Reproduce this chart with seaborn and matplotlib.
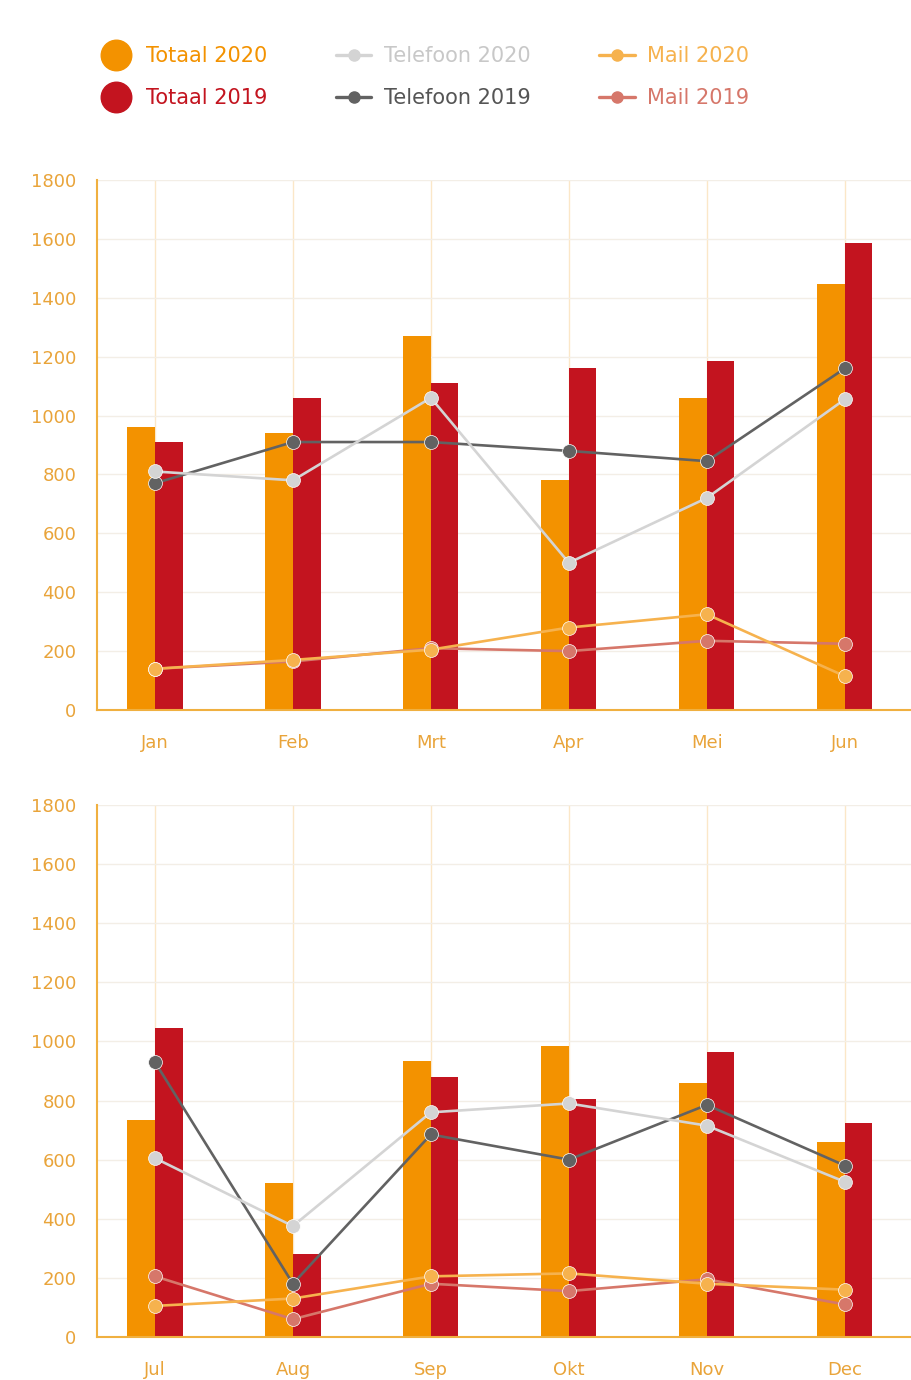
import numpy as np
import pandas as pd
import matplotlib
matplotlib.use("Agg")
import matplotlib.pyplot as plt
from matplotlib.lines import Line2D
import seaborn as sns

# data
maanden_1 = ["Jan", "Feb", "Mrt", "Apr", "Mei", "Jun"]
maanden_2 = ["Jul", "Aug", "Sep", "Okt", "Nov", "Dec"]

totaal_2020_1 = [960, 940, 1270, 780, 1060, 1445]
totaal_2019_1 = [910, 1060, 1110, 1160, 1185, 1585]
telefoon_2020_1 = [810, 780, 1060, 500, 720, 1055]
telefoon_2019_1 = [770, 910, 910, 880, 845, 1160]
mail_2020_1 = [140, 170, 205, 280, 325, 115]
mail_2019_1 = [140, 165, 210, 200, 235, 225]

totaal_2020_2 = [735, 520, 935, 985, 860, 660]
totaal_2019_2 = [1045, 280, 880, 805, 965, 725]
telefoon_2020_2 = [605, 375, 760, 790, 715, 525]
telefoon_2019_2 = [930, 180, 685, 600, 785, 580]
mail_2020_2 = [105, 130, 205, 215, 180, 160]
mail_2019_2 = [205, 60, 180, 155, 195, 110]

ORANJE = "#F39200"
ROOD = "#C3141F"
TEL20 = "#D4D4D4"
TEL19 = "#626262"
MAIL20 = "#F6B24E"
MAIL19 = "#D6776A"
AS = "#F0B040"
TEKST = "#E9A43A"

sns.set_style("white")
plt.rcParams['font.family'] = ['DejaVu Sans']

fig = plt.figure(figsize=(9.11, 13.8), dpi=100)
ax1 = fig.add_axes([0.1065, 0.4855, 0.8935, 0.3841])
ax2 = fig.add_axes([0.1065, 0.0312, 0.8935, 0.3855])


def teken(ax, maanden, t20, t19, tel20, tel19, m20, m19):
    df = pd.DataFrame({
        "maand": maanden * 2,
        "waarde": t20 + t19,
        "jaar": ["2020"] * len(maanden) + ["2019"] * len(maanden),
    })
    sns.barplot(data=df, x="maand", y="waarde", hue="jaar",
                hue_order=["2020", "2019"], palette=[ORANJE, ROOD],
                width=0.4, saturation=1, legend=False, linewidth=0,
                ax=ax, zorder=2)
    x = np.arange(len(maanden))
    for vals, kleur in [(m19, MAIL19), (m20, MAIL20), (tel19, TEL19), (tel20, TEL20)]:
        sns.lineplot(x=x, y=vals, color=kleur, marker="o", markersize=10,
                     markeredgecolor="white", markeredgewidth=0.5,
                     linewidth=1.9, ax=ax, zorder=3)
    ax.set_xlim(-0.42, 5.48)
    ax.set_ylim(0, 1800)
    ax.set_yticks(range(0, 1801, 200))
    ax.set_xlabel("")
    ax.set_ylabel("")
    ax.grid(axis="y", color="#F3EEE6", linewidth=1.0, zorder=0)
    ax.grid(axis="x", color="#FBE7C8", linewidth=1.0, zorder=0)
    ax.set_axisbelow(True)
    for s in ["top", "right"]:
        ax.spines[s].set_visible(False)
    for s in ["left", "bottom"]:
        ax.spines[s].set_color(AS)
        ax.spines[s].set_linewidth(1.5)
    ax.tick_params(axis="y", length=0, pad=15, labelsize=13, labelcolor=TEKST)
    ax.tick_params(axis="x", length=0, pad=17, labelsize=13, labelcolor=TEKST)


teken(ax1, maanden_1, totaal_2020_1, totaal_2019_1, telefoon_2020_1,
      telefoon_2019_1, mail_2020_1, mail_2019_1)
teken(ax2, maanden_2, totaal_2020_2, totaal_2019_2, telefoon_2020_2,
      telefoon_2019_2, mail_2020_2, mail_2019_2)

# legenda bovenaan
handles = [
    Line2D([], [], linestyle="none", marker="o", markersize=22, color=ORANJE),
    Line2D([], [], linestyle="none", marker="o", markersize=22, color=ROOD),
    Line2D([], [], marker="o", markersize=8, color=TEL20, linewidth=2.4),
    Line2D([], [], marker="o", markersize=8, color=TEL19, linewidth=2.4),
    Line2D([], [], marker="o", markersize=8, color=MAIL20, linewidth=2.4),
    Line2D([], [], marker="o", markersize=8, color=MAIL19, linewidth=2.4),
]
labels = ["Totaal 2020", "Totaal 2019", "Telefoon 2020", "Telefoon 2019",
          "Mail 2020", "Mail 2019"]
kleuren = [ORANJE, ROOD, "#C8C8C8", "#555555", MAIL20, MAIL19]
leg = fig.legend(handles, labels, ncol=3, loc="upper left",
                 bbox_to_anchor=(0.087, 0.98), frameon=False, fontsize=15,
                 handlelength=1.7, columnspacing=3.3, labelspacing=1.05,
                 handletextpad=0.6)
for t, k in zip(leg.get_texts(), kleuren):
    t.set_color(k)

fig.savefig("out.png", dpi=100)
